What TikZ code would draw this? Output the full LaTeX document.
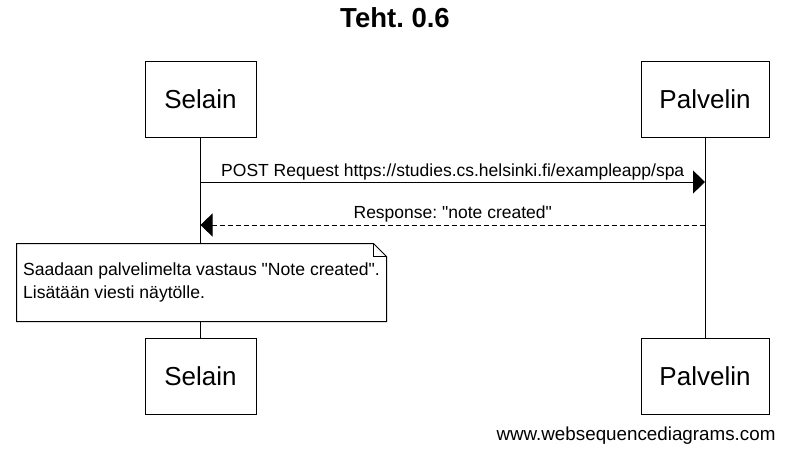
\documentclass[tikz,border=0pt]{standalone}
\usepackage{fontspec}
\setmainfont{Liberation Sans}[Ligatures=TeXOff]
\usetikzlibrary{positioning, arrows.meta}
\frenchspacing

\begin{document}
\begin{tikzpicture}[x=1pt,y=-1pt,node distance=4cm,on grid,line width=1pt]
  \tikzstyle{actor}=[draw, fill=white, minimum width=111pt, minimum height=76pt,
    font=\fontsize{26}{31}\selectfont]
  \tikzstyle{msg}=[-{Triangle[length=12pt,width=23pt]}]
  \tikzstyle{lbl}=[font=\fontsize{17.5}{21}\selectfont, anchor=base, inner sep=0pt]
  \tikzstyle{notebox}=[fill=white, align=left, minimum width=369pt,
    minimum height=77pt, font=\fontsize{17.6}{23}\selectfont]
  \useasboundingbox (0,0) rectangle (787,452);
  \node[font=\bfseries\fontsize{27.5}{33}\selectfont, anchor=base] (title) at (395,27.3) {Teht. 0.6};
  \node[actor] (selain1) at (200.5,99.5) {Selain};
  \node[actor, minimum width=128pt, right=504.5pt of selain1] (palvelin1) {Palvelin};
  \node[actor, below=276.5pt of selain1] (selain2) {Selain};
  \node[actor, minimum width=128pt, below=276.5pt of palvelin1] (palvelin2) {Palvelin};
  \draw (selain1) -- (selain2);
  \draw (palvelin1) -- (palvelin2);
  \coordinate (m1) at (0,182);
  \coordinate (m2) at (0,225);
  \draw[msg] (selain1 |- m1) -- node[lbl, yshift=5.5pt]
    {POST Request https://studies.cs.helsinki.fi/exampleapp/spa} (palvelin1 |- m1);
  \draw[msg, dash pattern=on 5pt off 3pt] (palvelin1 |- m2) -- node[lbl, yshift=7pt]
    {Response: "note created"} (selain1 |- m2);
  \node[notebox] (note) at (201.5,282.5)
    {Saadaan palvelimelta vastaus "Note created".\\Lisätään viesti näytölle.};
  \draw (note.north west) -- ([xshift=-13pt]note.north east)
    -- ([yshift=-13pt]note.north east) -- (note.south east)
    -- (note.south west) -- cycle;
  \draw ([xshift=-13pt]note.north east) |- ([yshift=-13pt]note.north east);
  \node[font=\fontsize{18.8}{22}\selectfont, anchor=base] (wsd) at (636,440)
    {www.websequencediagrams.com};
\end{tikzpicture}
\end{document}
